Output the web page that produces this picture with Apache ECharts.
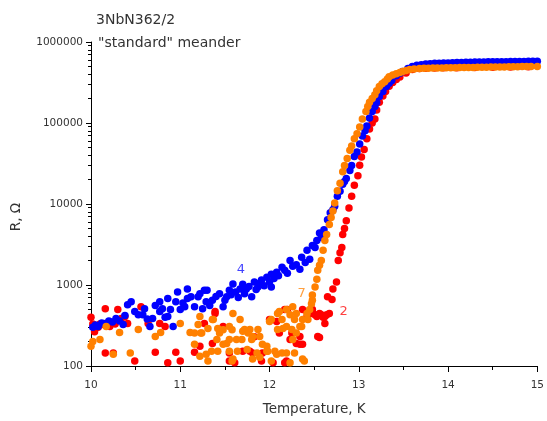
<!DOCTYPE html>
<html>
<head>
<meta charset="utf-8">
<script src="https://cdn.jsdelivr.net/npm/echarts@6/dist/echarts.min.js"></script>
<style>html,body{margin:0;padding:0;background:#fff;}#c{width:547px;height:421px;}</style>
</head>
<body>
<div id="c"></div>
<script>
const titleLine1 = '3NbN362/2';
const titleLine2 = '"standard" meander';
const xName = 'Temperature, K';
const yName = 'R, \u03A9';
const xTicks = [10, 11, 12, 13, 14, 15];
const yTicks = [100, 1000, 10000, 100000, 1000000];
const yMinorTicks = [200,300,400,500,600,700,800,900,2000,3000,4000,5000,6000,7000,8000,9000,20000,30000,40000,50000,60000,70000,80000,90000,200000,300000,400000,500000,600000,700000,800000,900000];
const seriesNames = ['2', '4', '7'];
const seriesColors = ['#ff0000', '#0000ff', '#ff8000'];
const labelPositions = [[12.83, 470], [11.68, 1560], [12.36, 780]];

const red = [[10.0,400],[10.02,330],[10.04,265],[10.08,300],[10.1,330],[10.14,325],[10.16,510],[10.16,145],[10.19,310],[10.21,308],[10.25,145],[10.27,330],[10.3,500],[10.34,385],[10.38,407],[10.41,335],[10.49,115],[10.56,540],[10.64,335],[10.72,148],[10.77,335],[10.83,308],[10.86,110],[10.95,148],[11.0,115],[11.16,148],[11.22,175],[11.27,335],[11.36,190],[11.39,470],[11.39,445],[11.48,308],[11.55,145],[11.55,115],[11.61,110],[11.7,152],[11.78,152],[11.81,145],[11.83,230],[11.91,115],[11.92,145],[12.0,375],[12.04,110],[12.08,355],[12.11,255],[12.17,110],[12.17,500],[12.19,115],[12.2,500],[12.23,213],[12.25,255],[12.3,190],[12.34,185],[12.34,232],[12.37,185],[12.37,500],[12.42,407],[12.42,470],[12.45,445],[12.47,500],[12.48,500],[12.48,445],[12.51,430],[12.53,407],[12.54,232],[12.56,225],[12.56,445],[12.58,430],[12.6,400],[12.62,335],[12.62,407],[12.64,430],[12.65,714],[12.67,445],[12.7,660],[12.71,890],[12.75,1090],[12.77,2000],[12.79,2500],[12.81,2900],[12.82,4200],[12.84,5000],[12.86,6200],[12.89,8900],[12.92,12500],[12.95,17000],[12.99,22400],[13.01,30000],[13.03,38000],[13.06,47000],[13.09,63800],[13.12,84500],[13.15,100000],[13.18,112000],[13.2,145000],[13.23,180000],[13.27,215000],[13.3,245000],[13.34,285000],[13.38,316000],[13.42,345000],[13.46,370000],[13.53,415000],[13.6,456000],[13.68,470000],[13.75,475000],[13.85,478000],[13.95,480000],[14.1,482000],[14.3,485000],[14.5,488000],[14.7,492000],[14.9,496000]];

const blue = [[10.02,300],[10.05,320],[10.08,308],[10.12,340],[10.16,335],[10.2,360],[10.24,350],[10.28,385],[10.32,360],[10.36,325],[10.38,420],[10.41,570],[10.45,620],[10.49,470],[10.53,430],[10.58,430],[10.6,510],[10.63,380],[10.66,308],[10.69,385],[10.72,560],[10.77,620],[10.77,470],[10.8,510],[10.83,400],[10.86,680],[10.86,407],[10.89,500],[10.92,308],[10.95,620],[10.97,820],[11.0,500],[11.03,600],[11.05,540],[11.08,890],[11.08,680],[11.12,714],[11.16,540],[11.2,714],[11.22,780],[11.25,510],[11.27,860],[11.29,620],[11.3,860],[11.33,560],[11.36,650],[11.4,720],[11.44,780],[11.48,540],[11.5,650],[11.52,714],[11.55,860],[11.57,760],[11.59,1030],[11.62,820],[11.65,700],[11.67,890],[11.7,1020],[11.72,780],[11.74,890],[11.77,960],[11.8,714],[11.83,1090],[11.85,880],[11.87,946],[11.89,1050],[11.91,1150],[11.94,980],[11.97,1250],[12.0,1100],[12.02,1360],[12.02,946],[12.05,1200],[12.08,1440],[12.1,1300],[12.14,1660],[12.17,1520],[12.2,1400],[12.23,2000],[12.26,1700],[12.3,1780],[12.34,1570],[12.36,2200],[12.4,1900],[12.42,2680],[12.45,2080],[12.48,3080],[12.51,2900],[12.53,3550],[12.56,4400],[12.58,3850],[12.61,4800],[12.65,6400],[12.68,7800],[12.71,8500],[12.73,9400],[12.76,12500],[12.79,14400],[12.82,17500],[12.84,19000],[12.86,20700],[12.9,26000],[12.92,29800],[12.95,38500],[12.98,44000],[13.01,55000],[13.04,69000],[13.07,80000],[13.09,92000],[13.12,115000],[13.15,139000],[13.18,160000],[13.2,179000],[13.23,212000],[13.27,245000],[13.31,282000],[13.34,310000],[13.37,334000],[13.42,384000],[13.46,410000],[13.49,432000],[13.55,470000],[13.6,500000],[13.65,515000],[13.7,525000],[13.75,535000],[13.8,540000],[13.85,545000],[13.9,548000],[13.95,550000],[14.0,552000],[14.05,556000],[14.1,558000],[14.15,560000],[14.2,561000],[14.25,563000],[14.3,565000],[14.35,566000],[14.4,567000],[14.45,569000],[14.5,570000],[14.55,571000],[14.6,572000],[14.65,572000],[14.7,573000],[14.75,574000],[14.8,575000],[14.85,576000],[14.9,577000],[14.95,578000],[15.0,580000]];

const orange = [[10.0,175],[10.02,200],[10.1,213],[10.17,308],[10.25,140],[10.32,260],[10.44,145],[10.53,282],[10.72,232],[10.78,260],[11.0,335],[11.11,260],[11.16,185],[11.16,255],[11.2,325],[11.22,407],[11.22,132],[11.23,255],[11.24,255],[11.29,140],[11.31,290],[11.31,115],[11.35,152],[11.36,375],[11.37,375],[11.41,213],[11.42,290],[11.42,152],[11.44,255],[11.48,280],[11.48,185],[11.52,190],[11.55,308],[11.55,213],[11.55,152],[11.58,280],[11.58,115],[11.59,445],[11.59,122],[11.63,213],[11.64,152],[11.67,375],[11.69,213],[11.7,268],[11.72,282],[11.75,160],[11.76,255],[11.78,282],[11.8,213],[11.81,122],[11.81,232],[11.86,145],[11.87,282],[11.89,232],[11.89,128],[11.92,185],[11.97,175],[11.97,152],[11.98,152],[12.0,355],[12.02,375],[12.02,115],[12.06,152],[12.08,140],[12.09,282],[12.09,445],[12.11,470],[12.14,145],[12.14,375],[12.15,290],[12.19,500],[12.19,145],[12.19,308],[12.23,430],[12.23,110],[12.25,282],[12.26,213],[12.26,540],[12.28,375],[12.28,145],[12.3,445],[12.3,255],[12.34,308],[12.36,308],[12.37,122],[12.37,375],[12.39,115],[12.42,445],[12.43,375],[12.45,500],[12.47,585],[12.48,650],[12.48,750],[12.51,946],[12.53,1180],[12.54,1520],[12.56,1750],[12.58,2000],[12.6,2680],[12.62,3550],[12.64,4200],[12.67,5600],[12.69,6800],[12.71,8200],[12.73,10300],[12.76,14600],[12.79,18000],[12.82,25000],[12.84,29800],[12.87,36400],[12.9,46000],[12.92,52000],[12.95,63800],[12.98,73500],[13.01,89000],[13.04,112000],[13.08,139000],[13.1,160000],[13.12,180000],[13.15,200000],[13.18,223000],[13.2,250000],[13.23,282000],[13.26,305000],[13.29,324000],[13.32,350000],[13.34,373000],[13.38,390000],[13.42,405000],[13.46,420000],[13.49,432000],[13.53,445000],[13.57,456000],[13.62,463000],[13.68,470000],[13.73,473000],[13.78,475000],[13.83,476000],[13.88,478000],[13.93,479000],[13.98,480000],[14.03,481000],[14.08,482000],[14.13,483000],[14.18,484000],[14.23,485000],[14.28,486000],[14.33,487000],[14.38,488000],[14.43,489000],[14.48,490000],[14.53,491000],[14.58,492000],[14.63,493000],[14.68,494000],[14.73,495000],[14.78,496000],[14.83,497000],[14.88,498000],[14.93,499000],[15.0,500000]];

const seriesData = [red, blue, orange];
const FONT = '"DejaVu Sans", sans-serif';
const TXT = '#333';

const chart = echarts.init(document.getElementById('c'), null, {renderer: 'canvas'});
chart.setOption({
  animation: false,
  backgroundColor: '#ffffff',
  textStyle: {fontFamily: FONT},
  title: [
    {text: titleLine1, left: 91, top: 8, textStyle: {fontSize: 14, fontWeight: 'normal', color: TXT, fontFamily: FONT}},
    {text: titleLine2, left: 93, top: 31, textStyle: {fontSize: 14, fontWeight: 'normal', color: TXT, fontFamily: FONT}}
  ],
  grid: {left: 91, right: 9, top: 42, bottom: 51, containLabel: false},
  xAxis: {
    type: 'value', min: xTicks[0], max: xTicks[xTicks.length - 1], interval: 1,
    name: xName, nameLocation: 'middle', nameGap: 36,
    nameTextStyle: {fontSize: 13.5, color: TXT, fontFamily: FONT},
    axisLine: {lineStyle: {color: '#000', width: 1}},
    axisTick: {show: true, inside: false, length: 6, lineStyle: {color: '#000', width: 1}},
    minorTick: {show: true, splitNumber: 2, length: 4, lineStyle: {color: '#000', width: 1}},
    splitLine: {show: false},
    axisLabel: {fontSize: 10.5, color: TXT, margin: 14, fontFamily: FONT}
  },
  yAxis: [
    {
      type: 'log', logBase: 10, min: yTicks[0], max: yTicks[yTicks.length - 1],
      name: yName, nameLocation: 'middle', nameGap: 68, nameRotate: 90,
      nameTextStyle: {fontSize: 13.5, color: TXT, fontFamily: FONT, padding: [0, 26, 0, 0]},
      axisLine: {show: true, lineStyle: {color: '#000', width: 1}},
      axisTick: {show: true, inside: false, length: 5, lineStyle: {color: '#000', width: 1}},
      splitLine: {show: false},
      axisLabel: {fontSize: 10.5, color: TXT, margin: 8, fontFamily: FONT, formatter: v => String(Math.round(v))}
    },
    {
      type: 'log', logBase: 10, min: yTicks[0], max: yTicks[yTicks.length - 1], position: 'left',
      axisLine: {show: false},
      axisTick: {show: true, inside: false, length: 3, customValues: yMinorTicks, lineStyle: {color: '#000', width: 1}},
      axisLabel: {show: false},
      splitLine: {show: false}
    }
  ],
  series: seriesNames.map((n, i) => ({
    name: n, type: 'scatter', data: seriesData[i], symbol: 'circle', symbolSize: 7.5,
    itemStyle: {color: seriesColors[i], opacity: 1},
    markPoint: {
      symbol: 'circle', symbolSize: 1, itemStyle: {color: 'rgba(0,0,0,0)'},
      label: {show: true, formatter: n, color: seriesColors[i], fontSize: 13, fontFamily: FONT, position: 'inside', opacity: 0.75},
      data: [{coord: labelPositions[i], value: n}]
    }
  }))
});
</script>
</body>
</html>
